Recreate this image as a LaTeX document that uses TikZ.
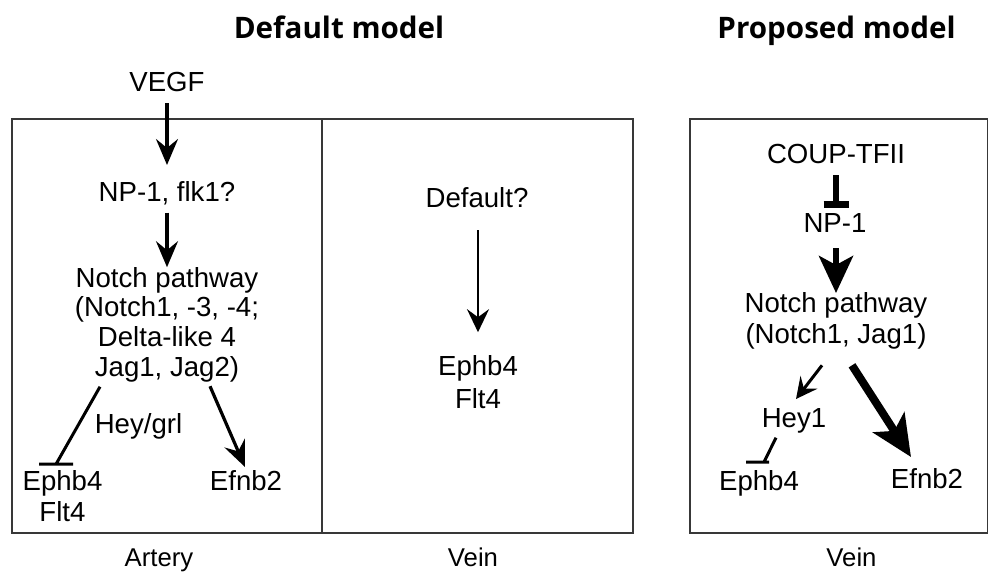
\documentclass[tikz,border=0pt]{standalone}
\usepackage{fontspec}
\setmainfont{Liberation Sans}
\newfontfamily\titlefont{Open Sans}
\usetikzlibrary{arrows.meta,calc}
\tikzset{
  lbl/.style={inner sep=0pt, outer sep=0pt, anchor=base, font=\fontsize{27.6}{29.6}\selectfont},
  mlbl/.style={inner sep=0pt, outer sep=0pt, anchor=north, align=center},
  bottomlbl/.style={inner sep=0pt, outer sep=0pt, anchor=base, font=\fontsize{25.7}{28}\selectfont},
  ttl/.style={inner sep=0pt, outer sep=0pt, anchor=base, font=\titlefont\bfseries\fontsize{29.6}{32}\selectfont},
  panel/.style={draw=black!78, line width=2pt},
  thinarr/.style={line width=3.2pt, -{Stealth[length=26pt,width=22pt,inset=9pt]}},
  midarr/.style={line width=2.6pt, -{Stealth[length=23pt,width=22pt,inset=8pt]}},
  smallarr/.style={line width=3pt, -{Stealth[length=21pt,width=21pt,inset=8pt]}},
  fatarr/.style={line width=6pt, -{Stealth[length=37pt,width=34pt,inset=9pt]}},
  fatterarr/.style={line width=8pt, -{Stealth[length=41pt,width=37pt,inset=10pt]}},
  inh/.style={line width=3pt},
}
\begin{document}
\begin{tikzpicture}[x=1pt,y=-1pt]
\useasboundingbox[fill=white] (0,0) rectangle (988,573);
% titles
\node[ttl] (t1) at (339,38) {Default model};
\node[ttl] (t2) at (836.5,38) {Proposed model};
% panels
\draw[panel] (12,119) rectangle (633,533);
\draw[panel] (322,119) -- (322,533);
\draw[panel] (690,119) rectangle (988,533);
% ---- Artery
\node[lbl] (vegf) at (167,91) {VEGF};
\node[lbl] (np1L) at (167,201) {NP-1, flk1?};
\node[mlbl, font=\fontsize{27.6}{29.6}\selectfont] (notchL) at (167,267.2)
  {Notch pathway\\(Notch1, -3, -4;\\Delta-like 4\\Jag1, Jag2)};
\node[lbl] (hey) at (138.5,433) {Hey/grl};
\node[mlbl, font=\fontsize{27.6}{31}\selectfont] (ephbL) at (62.5,470.2) {Ephb4\\Flt4};
\node[lbl] (efnbL) at (246,490) {Efnb2};
\node[bottomlbl] (artery) at (159,566.5) {Artery};
\draw[thinarr] ($(vegf.south)+(0,12)$) -- ($(np1L.north)+(0,-16)$);
\draw[thinarr] ($(np1L.south)+(0,8)$) -- (notchL.north);
\draw[inh] ($(notchL.south)+(-67,5)$) -- ($(ephbL.north)+(-6.5,-6)$) ++(-17,0) -- ++(34,0);
\draw[thinarr] ($(notchL.south)+(43,4.5)$) -- ($(efnbL.north)+(-1,-3)$);
% ---- Vein (default)
\node[lbl] (dflt) at (477,207) {Default?};
\node[mlbl, font=\fontsize{27.6}{33}\selectfont] (ephbM) at (478,355.2) {Ephb4\\Flt4};
\node[bottomlbl] (veinM) at (473,566.5) {Vein};
\draw[midarr] ($(dflt.south)+(1,23)$) -- ($(ephbM.north)+(0,-23)$);
% ---- Vein (proposed)
\node[lbl] (coup) at (836,163) {COUP-TFII};
\node[lbl] (np1R) at (835,232) {NP-1};
\node[mlbl, font=\fontsize{27.6}{31.6}\selectfont] (notchR) at (836,292)
  {Notch pathway\\(Notch1, Jag1)};
\node[lbl] (hey1) at (794,427) {Hey1};
\node[lbl] (ephbR) at (759,490) {Ephb4};
\node[lbl] (efnbR) at (927,488) {Efnb2};
\node[bottomlbl] (veinR) at (851.5,566.5) {Vein};
\draw[line width=5.5pt] ($(coup.south)+(0,12)$) -- ($(np1R.north)+(1,-9)$);
\draw[line width=7pt] ($(np1R.north)+(-11.5,-8.7)$) -- ++(25,0);
\draw[fatarr] ($(np1R.south)+(1,16)$) -- ($(notchR.north)+(0,1)$);
\draw[smallarr] ($(notchR.south)+(-14,16)$) -- ($(hey1.north)+(2,-9)$);
\draw[inh] ($(hey1.south)+(-18,5)$) -- ($(ephbR.north)+(5,-8)$) ++(-18,0) -- ++(23,0);
\draw[fatterarr] ($(notchR.south)+(16,16)$) -- ($(efnbR.north)+(-16,-11)$);
\end{tikzpicture}
\end{document}
